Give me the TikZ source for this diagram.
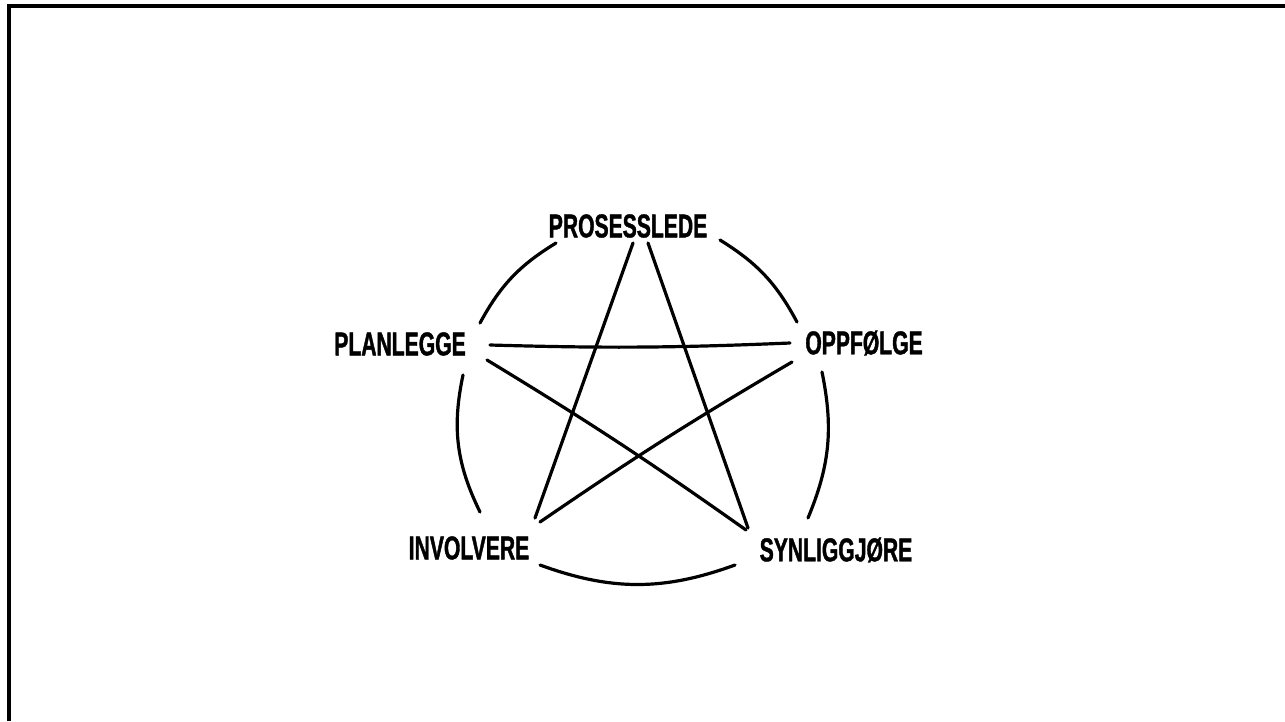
\documentclass[tikz,border=0pt]{standalone}
\usepackage{fontspec}
\newfontfamily\handfont[FakeStretch=0.64, FakeBold=1.2]{Liberation Sans}
\usetikzlibrary{calc}

\begin{document}
\begin{tikzpicture}[x=1pt, y=-1pt,
    word/.style={font=\handfont\bfseries\fontsize{33}{35}\selectfont, inner sep=0pt},
    link/.style={line width=3.2pt, line cap=round},
    frame/.style={line width=3.4pt}
]
\useasboundingbox (0,0) rectangle (1285,721);

% Frame (top and left edge only)
\draw[frame] (9,721) -- (9,6) -- (1285,6);

% Words
\node[word] (ps) at (628,226) {PROSESSLEDE};
\node[word] (pl) at (400,344) {PLANLEGGE};
\node[word] (op) at (864,343) {OPPFØLGE};
\node[word] (in) at (469,548) {INVOLVERE};
\node[word] (sy) at (836,550) {SYNLIGGJØRE};

% Star
\draw[link] ($(ps)+(5,17)$) -- ($(in)+(66,-30)$);
\draw[link] ($(ps)+(20,17)$) -- ($(sy)+(-88,-22)$);
\draw[link] ($(pl)+(90,1)$) to[bend right=2] ($(op)+(-74,0)$);
\draw[link] ($(pl)+(87,16)$) to[bend left=2] ($(sy)+(-90,-20)$);
\draw[link] ($(op)+(-72,19)$) to[bend right=2] ($(in)+(71,-26)$);

% Circle arcs
\draw[link] ($(ps)+(-72,17)$) to[bend right=15] ($(pl)+(80,-21)$);
\draw[link] ($(ps)+(92,14)$) to[bend left=15] ($(op)+(-67,-21)$);
\draw[link] ($(pl)+(63,31)$) to[bend right=19] ($(in)+(11,-36)$);
\draw[link] ($(op)+(-42,29)$) to[bend left=17] ($(sy)+(-28,-32)$);
\draw[link] ($(in)+(71,17)$) to[bend right=20] ($(sy)+(-101,15)$);

\end{tikzpicture}
\end{document}
